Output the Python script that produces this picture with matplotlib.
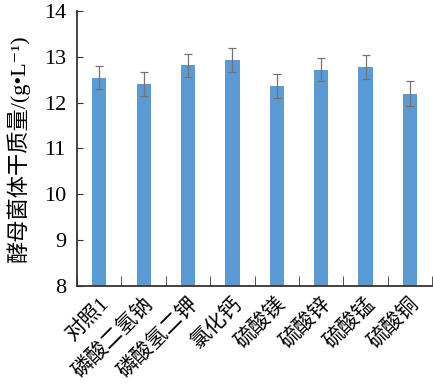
import matplotlib
matplotlib.use('Agg')
import matplotlib.pyplot as plt
import numpy as np

plt.rcParams['font.family'] = ['Liberation Serif', 'Noto Sans CJK SC', 'DejaVu Sans']

categories = ['对照1', '磷酸二氢钠', '磷酸氢二钾', '氯化钙', '硫酸镁', '硫酸锌', '硫酸锰', '硫酸铜']
values = [12.54, 12.40, 12.81, 12.93, 12.36, 12.72, 12.78, 12.19]
errors = [0.25, 0.26, 0.25, 0.26, 0.26, 0.25, 0.26, 0.27]
yticks = [8, 9, 10, 11, 12, 13, 14]

axis_col = '#3b3131'

fig = plt.figure(figsize=(4.33, 3.91), dpi=100)
ax = fig.add_axes([0.178, 0.269, 0.820, 0.703])

x = np.arange(len(categories))
ax.bar(x, values, width=0.32, color='#5b9bd5', zorder=2)
ax.errorbar(x, values, yerr=errors, fmt='none', ecolor='#7a7070',
            elinewidth=0.9, capsize=3, capthick=0.9, zorder=3)

ax.set_xlim(-0.5, len(categories) - 0.5)
ax.set_ylim(8, 14)
ax.set_yticks(yticks)
ax.set_yticklabels([str(t) for t in yticks], fontsize=16)

ax.set_xticks(x)
ax.set_xticklabels(categories, rotation=45, ha='right', rotation_mode='anchor', fontsize=15)
ax.tick_params(axis='x', which='major', length=0, pad=6)
ax.set_xticks(np.arange(-0.5, len(categories)), minor=True)
ax.tick_params(axis='x', which='minor', direction='in', length=7, color=axis_col)
ax.tick_params(axis='y', direction='in', length=4, color=axis_col, pad=8)

for s in ['top', 'right']:
    ax.spines[s].set_visible(False)
for s in ['left', 'bottom']:
    ax.spines[s].set_color(axis_col)
    ax.spines[s].set_linewidth(1.3)

ax.set_ylabel('酵母菌体干质量/(g•L⁻¹)', fontsize=16, labelpad=10)

fig.savefig('out.png', dpi=100)
